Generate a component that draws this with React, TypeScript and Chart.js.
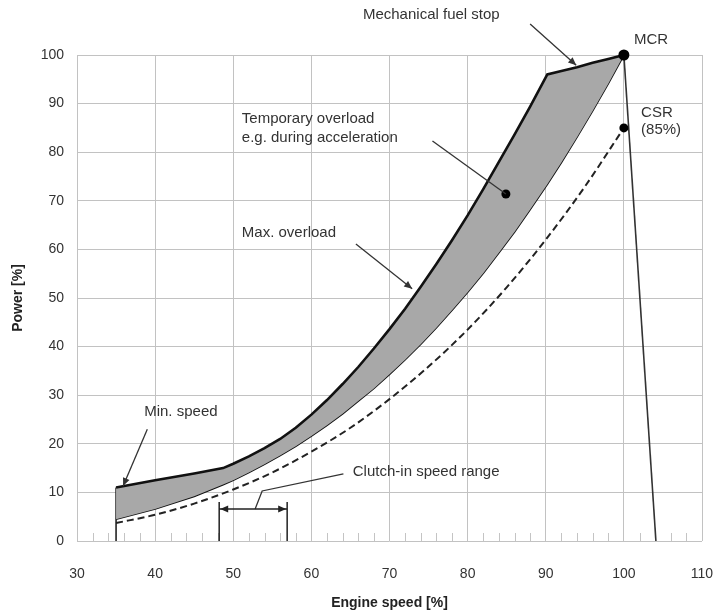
import { useEffect, useRef } from "react";
import { Chart, registerables } from "chart.js";

Chart.register(...registerables);

// ---------- data ----------
const speedTicks = [30, 40, 50, 60, 70, 80, 90, 100, 110];
const powerTicks = [0, 10, 20, 30, 40, 50, 60, 70, 80, 90, 100];

const limitSpeed = [35, 40, 45, 48.7, 50, 52, 54, 56, 58, 60, 62, 64, 66, 68, 70, 72, 74, 76, 78, 80, 82, 84, 86, 88, 90.2, 92, 94, 96, 98, 100];
const maxOverload = [11, 12.5, 13.9, 15, 15.9, 17.4, 19.1, 21.0, 23.3, 26.0, 29.0, 32.3, 35.8, 39.6, 43.6, 47.8, 52.3, 57.0, 61.9, 67.0, 72.4, 78.0, 83.6, 89.4, 96, 96.7, 97.5, 98.4, 99.2, 100];
const lowerLimit = [4.5, 6.6, 9.2, 11.6, 12.5, 14.1, 15.8, 17.6, 19.5, 21.6, 23.8, 26.2, 28.8, 31.4, 34.3, 37.3, 40.5, 43.9, 47.5, 51.2, 55.1, 59.3, 63.6, 68.2, 73.4, 77.9, 83.1, 88.5, 94.1, 100];

const propSpeed = [35, 40, 45, 50, 55, 60, 65, 70, 75, 80, 85, 90, 95, 100];
const propellerCurve = [3.7, 5.4, 7.7, 10.6, 14.1, 18.4, 23.3, 29.2, 35.9, 43.5, 52.2, 62.0, 72.9, 85];

const minSpeedLine = [
  { x: 35, y: 0 },
  { x: 35, y: 11 },
];
const governorLine = [
  { x: 100, y: 100 },
  { x: 104.1, y: 0 },
];
const markedPoints = [
  { x: 100, y: 100 },
  { x: 100, y: 85 },
  { x: 84.9, y: 71.4 },
];
const markedRadius = [5.5, 4.5, 4.5];

const minorTicks = [32, 34, 36, 38, 42, 44, 46, 48, 52, 54, 56, 58, 62, 64, 66, 68, 72, 74, 76, 78, 82, 84, 86, 88, 92, 94, 96, 98, 102, 104, 106, 108];

const textLabels = [
  { text: "Mechanical fuel stop", x: 66.6, y: 108.2 },
  { text: "MCR", x: 101.3, y: 103.1 },
  { text: "CSR", x: 102.2, y: 88.1 },
  { text: "(85%)", x: 102.2, y: 84.6 },
  { text: "Temporary overload", x: 51.1, y: 86.8 },
  { text: "e.g. during acceleration", x: 51.1, y: 82.9 },
  { text: "Max. overload", x: 51.1, y: 63.4 },
  { text: "Min. speed", x: 38.6, y: 26.5 },
  { text: "Clutch-in speed range", x: 65.3, y: 14.2 },
];

const arrows = [
  { pts: [[88.0, 106.4], [93.9, 97.9]], head: true },
  { pts: [[75.5, 82.3], [84.9, 71.4]], head: false },
  { pts: [[65.7, 61.1], [72.9, 51.9]], head: true },
  { pts: [[39.0, 23.0], [35.9, 11.3]], head: true },
  { pts: [[64.1, 13.8], [53.7, 10.3], [52.8, 6.6]], head: false },
];
const clutchRange = [48.2, 56.9];
const clutchArrowPower = 6.6;
const clutchBarTop = 8;

const FONT = "'Liberation Sans', Arial, sans-serif";
const INK = "#333333";

function drawHead(ctx: CanvasRenderingContext2D, fx: number, fy: number, tx: number, ty: number) {
  const a = Math.atan2(ty - fy, tx - fx);
  const L = 8;
  const W = 3.5;
  ctx.beginPath();
  ctx.moveTo(tx, ty);
  ctx.lineTo(tx - L * Math.cos(a) + W * Math.sin(a), ty - L * Math.sin(a) - W * Math.cos(a));
  ctx.lineTo(tx - L * Math.cos(a) - W * Math.sin(a), ty - L * Math.sin(a) + W * Math.cos(a));
  ctx.closePath();
  ctx.fill();
}

const annotationPlugin = {
  id: "engineAnnotations",
  beforeDatasetsDraw(chart: any) {
    const { ctx, scales } = chart;
    const x = scales.x;
    const y = scales.y;
    ctx.save();
    ctx.strokeStyle = "#c4c4c4";
    ctx.lineWidth = 1;
    ctx.beginPath();
    for (const v of minorTicks) {
      const p = Math.round(x.getPixelForValue(v)) + 0.5;
      ctx.moveTo(p, y.getPixelForValue(0));
      ctx.lineTo(p, y.getPixelForValue(0) - 8);
    }
    ctx.stroke();
    ctx.restore();
  },
  afterDatasetsDraw(chart: any) {
    const { ctx, scales } = chart;
    const x = scales.x;
    const y = scales.y;
    const px = (v: number) => x.getPixelForValue(v);
    const py = (v: number) => y.getPixelForValue(v);
    ctx.save();
    ctx.strokeStyle = INK;
    ctx.fillStyle = INK;
    ctx.lineWidth = 1.3;
    for (const a of arrows) {
      ctx.beginPath();
      a.pts.forEach((p, i) => {
        if (i === 0) ctx.moveTo(px(p[0]), py(p[1]));
        else ctx.lineTo(px(p[0]), py(p[1]));
      });
      ctx.stroke();
      if (a.head) {
        const n = a.pts.length;
        drawHead(ctx, px(a.pts[n - 2][0]), py(a.pts[n - 2][1]), px(a.pts[n - 1][0]), py(a.pts[n - 1][1]));
      }
    }
    // clutch-in range
    ctx.strokeStyle = "#222";
    ctx.fillStyle = "#222";
    ctx.lineWidth = 1.5;
    ctx.beginPath();
    for (const c of clutchRange) {
      ctx.moveTo(px(c), py(0));
      ctx.lineTo(px(c), py(clutchBarTop));
    }
    ctx.moveTo(px(clutchRange[0]), py(clutchArrowPower));
    ctx.lineTo(px(clutchRange[1]), py(clutchArrowPower));
    ctx.stroke();
    drawHead(ctx, px(clutchRange[1]) - 20, py(clutchArrowPower), px(clutchRange[0]) + 1, py(clutchArrowPower));
    drawHead(ctx, px(clutchRange[0]) + 20, py(clutchArrowPower), px(clutchRange[1]) - 1, py(clutchArrowPower));

    ctx.fillStyle = INK;
    ctx.font = `15px ${FONT}`;
    ctx.textAlign = "left";
    ctx.textBaseline = "middle";
    for (const t of textLabels) {
      ctx.fillText(t.text, px(t.x), py(t.y));
    }
    ctx.restore();
  },
};

export default function App() {
  const ref = useRef<HTMLCanvasElement | null>(null);
  useEffect(() => {
    document.body.style.margin = "0";
    if (!ref.current) return;
    const chart = new Chart(ref.current, {
      type: "scatter",
      data: {
        datasets: [
          {
            label: "Max. overload",
            data: limitSpeed.map((s, i) => ({ x: s, y: maxOverload[i] })),
            showLine: true,
            borderColor: "#111",
            borderWidth: 2.6,
            backgroundColor: "#a8a8a8",
            pointRadius: 0,
            tension: 0,
            fill: "+1",
            clip: false as any,
          },
          {
            label: "Lower limit",
            data: limitSpeed.map((s, i) => ({ x: s, y: lowerLimit[i] })),
            showLine: true,
            borderColor: "#111",
            borderWidth: 1.8,
            pointRadius: 0,
            tension: 0,
            clip: false as any,
          },
          {
            label: "Propeller curve",
            data: propSpeed.map((s, i) => ({ x: s, y: propellerCurve[i] })),
            showLine: true,
            borderColor: "#222",
            borderWidth: 2,
            borderDash: [7, 4],
            pointRadius: 0,
            cubicInterpolationMode: "monotone",
            clip: false as any,
          },
          {
            label: "Min speed",
            data: minSpeedLine,
            showLine: true,
            borderColor: "#222",
            borderWidth: 1.6,
            pointRadius: 0,
            clip: false as any,
          },
          {
            label: "Governor",
            data: governorLine,
            showLine: true,
            borderColor: "#333",
            borderWidth: 1.6,
            pointRadius: 0,
            clip: false as any,
          },
          {
            label: "Points",
            data: markedPoints,
            showLine: false,
            pointRadius: markedRadius,
            pointBackgroundColor: "#000",
            pointBorderWidth: 0,
            order: -1,
            clip: false as any,
          },
        ],
      },
      options: {
        animation: false,
        responsive: false,
        layout: { padding: { top: 55, right: 12, left: 0, bottom: 0 } },
        plugins: {
          legend: { display: false },
          tooltip: { enabled: false },
        },
        scales: {
          x: {
            type: "linear",
            min: 30,
            max: 110,
            afterBuildTicks: (s: any) => {
              s.ticks = speedTicks.map((v) => ({ value: v }));
            },
            afterFit: (s: any) => {
              s.height = 74;
              s.paddingLeft = 0;
              s.paddingRight = 0;
            },
            grid: { color: "#c2c2c2", lineWidth: 1, drawTicks: false },
            border: { display: false },
            ticks: { color: INK, font: { family: FONT, size: 14 }, padding: 25 },
            title: {
              display: true,
              text: "Engine speed [%]",
              color: "#222",
              font: { family: FONT, size: 14, weight: "bold" },
              padding: { top: 0, bottom: 3 },
            },
          },
          y: {
            type: "linear",
            min: 0,
            max: 100,
            afterBuildTicks: (s: any) => {
              s.ticks = powerTicks.map((v) => ({ value: v }));
            },
            afterFit: (s: any) => {
              s.width = 77;
              s.paddingTop = 0;
              s.paddingBottom = 0;
            },
            grid: { color: "#c2c2c2", lineWidth: 1, drawTicks: false },
            border: { display: false },
            ticks: { color: INK, font: { family: FONT, size: 14 }, padding: 13 },
            title: {
              display: true,
              text: "Power [%]",
              color: "#222",
              font: { family: FONT, size: 14, weight: "bold" },
              padding: { top: 10, bottom: 0 },
            },
          },
        },
      },
      plugins: [annotationPlugin],
    } as any);
    return () => chart.destroy();
  }, []);
  return (
    <div style={{ width: 714, height: 615, background: "#fff" }}>
      <canvas ref={ref} width={714} height={615} style={{ display: "block" }} />
    </div>
  );
}
